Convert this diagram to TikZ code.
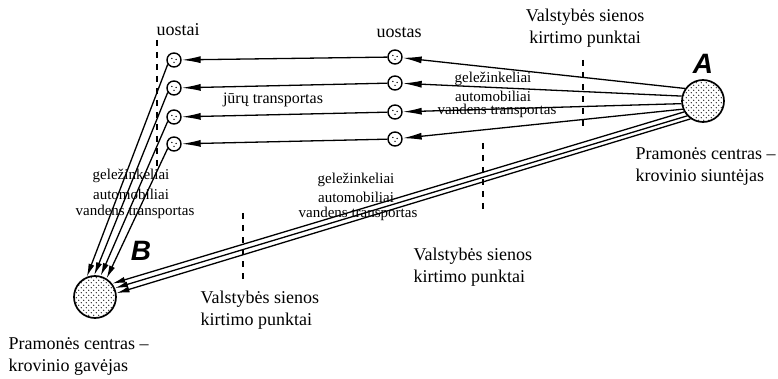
\documentclass[tikz,border=0pt]{standalone}
\usepackage{fontspec}
\setmainfont{Liberation Serif}
\setsansfont{Liberation Sans}
\usetikzlibrary{arrows.meta,patterns}
\pgfdeclarepatternformonly{sdots}{\pgfpoint{-0.5pt}{-0.5pt}}{\pgfpoint{5.5pt}{5.5pt}}{\pgfpoint{5pt}{5pt}}{%
  \pgfpathcircle{\pgfpoint{1.25pt}{1.25pt}}{0.55pt}%
  \pgfpathcircle{\pgfpoint{3.75pt}{3.75pt}}{0.55pt}%
  \pgfusepath{fill}}
\begin{document}
\begin{tikzpicture}[x=1pt,y=-1pt,line width=1.3pt,
  big/.style={circle,draw,line width=1.7pt,minimum size=42pt,inner sep=0pt,pattern=sdots},
  port/.style={circle,draw,line width=1.4pt,minimum size=14pt,inner sep=0pt},
  bigtxt/.style={font=\fontsize{18}{22}\selectfont,inner sep=0pt,align=left},
  smalltxt/.style={font=\fontsize{15}{18}\selectfont,inner sep=0pt},
  letter/.style={font=\fontsize{28}{28}\selectfont\sffamily\bfseries\itshape,inner sep=0pt},
  arr/.style={-{Latex[length=19pt,width=7pt]}},
  arrb/.style={-{Latex[length=13pt,width=6pt]}},
  border/.style={dash pattern=on 6pt off 6pt,line width=1.3pt}
]
\useasboundingbox (0,0) rectangle (778,379);

% dashed border lines
\coordinate (d1a) at (583,60);  \coordinate (d1b) at (583,128);
\coordinate (d2a) at (483,143); \coordinate (d2b) at (483,210);
\coordinate (d3a) at (243,213); \coordinate (d3b) at (243,280);
\coordinate (d4a) at (157,40);  \coordinate (d4b) at (157,166);
\draw[border] (d1a) -- (d1b);
\draw[border] (d2a) -- (d2b);
\draw[border] (d3a) -- (d3b);
\draw[border] (d4a) -- (d4b);

% main nodes
\node[big] (A) at (703,101) {};
\node[big] (B) at (95,297) {};
\node[port] (M1) at (395,57) {};
\node[port] (M2) at (395,83) {};
\node[port] (M3) at (395,112) {};
\node[port] (M4) at (395,139) {};
\node[port] (L1) at (174,60) {};
\node[port] (L2) at (174,88) {};
\node[port] (L3) at (174,117) {};
\node[port] (L4) at (174,144) {};

\foreach \n in {M1,M2,M3,M4,L1,L2,L3,L4}{
  \fill ([shift={(-2.2,-1.5)}]\n.center) circle (0.75pt);
  \fill ([shift={(2.2,-0.5)}]\n.center) circle (0.75pt);
  \fill ([shift={(0,2.3)}]\n.center) circle (0.75pt);
}

% A to ports
\draw[arr] (A.145) -- (M1);
\draw[arr] (A.167) -- (M2);
\draw[arr] (A.187) -- (M3);
\draw[arr] (A.202) -- (M4);
% ports to ports
\draw[arr] (M1) -- (L1);
\draw[arr] (M2) -- (L2);
\draw[arr] (M3) -- (L3);
\draw[arr] (M4) -- (L4);
% ports to B
\draw[arrb] (L1.215) -- (B.112);
\draw[arrb] (L2.215) -- (B.92);
\draw[arrb] (L3.215) -- (B.75);
\draw[arrb] (L4.215) -- (B.58);
% A to B
\draw[arrb] (A.210) -- (B.38);
\draw[arrb] (A.223) -- (B.24);
\draw[arrb] (A.235) -- (B.10);

% letters
\node[letter] (tA) at (703,64) {A};
\node[letter] (tB) at (141,251) {B};

% texts
\node[bigtxt] (uostai) at (178,30) {uostai};
\node[bigtxt] (uostas) at (399,33) {uostas};
\node[smalltxt,font=\fontsize{16}{18}\selectfont] (jura) at (273,100) {jūrų transportas};

\node[bigtxt,align=center] (vsTop) at (585,28) {Valstybės sienos\\kirtimo punktai};
\node[bigtxt,anchor=west] (vsMid) at (413,267) {Valstybės sienos\\kirtimo punktai};
\node[bigtxt,anchor=west] (vsLow) at (200,310) {Valstybės sienos\\kirtimo punktai};
\node[bigtxt,anchor=west] (pcA) at (635,166) {Pramonės centras –\\krovinio siuntėjas};
\node[bigtxt,anchor=west] (pcB) at (8,356) {Pramonės centras –\\krovinio gavėjas};

\node[smalltxt] (r1) at (493,79) {geležinkeliai};
\node[smalltxt] (r2) at (493,96) {automobiliai};
\node[smalltxt] (r3) at (497,111) {vandens transportas};

\node[smalltxt] (m1) at (356,180) {geležinkeliai};
\node[smalltxt] (m2) at (356,197) {automobiliai};
\node[smalltxt] (m3) at (358,214) {vandens transportas};

\node[smalltxt] (l1) at (131,176) {geležinkeliai};
\node[smalltxt] (l2) at (131,194) {automobiliai};
\node[smalltxt] (l3) at (135,212) {vandens transportas};
\end{tikzpicture}
\end{document}
